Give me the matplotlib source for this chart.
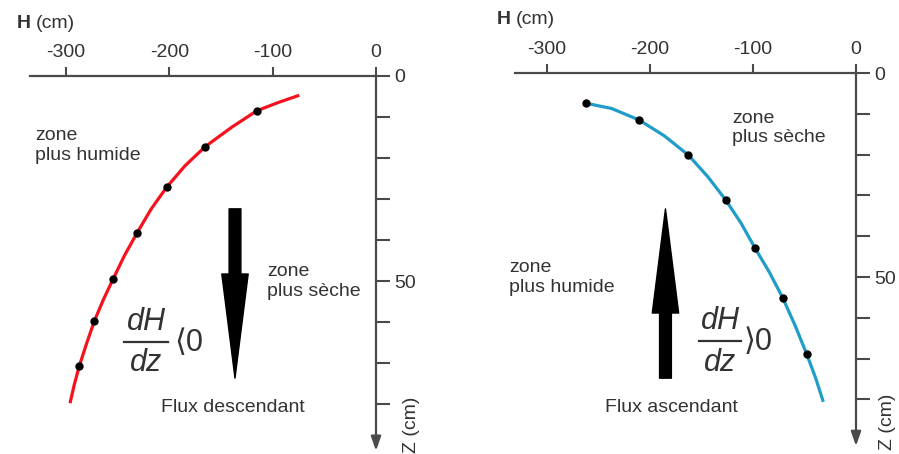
import matplotlib
matplotlib.use("Agg")
import matplotlib.pyplot as plt
from matplotlib.lines import Line2D

plt.rcParams['font.family'] = ['Liberation Sans', 'DejaVu Sans']

# ---------------- data ----------------
x_ticks = [-300, -200, -100, 0]
x_tick_labels = ['-300', '-200', '-100', '0']
z_major_ticks = [0, 50]
z_major_labels = ['0', '50']
z_minor_ticks = [10, 20, 30, 40, 60, 70, 80]

# left panel (descending flux) - curve read along its length, and measurement dots
left_curve_H = [-74.3, -96.1, -115.5, -139.7, -165.2, -184.9, -202.6, -217.8, -231.4,
                -243.3, -254.3, -264.0, -272.7, -280.1, -287.2, -292.1, -296.2]
left_curve_z = [4.7, 6.6, 8.5, 12.5, 17.2, 21.9, 27.1, 32.5, 38.3,
                43.7, 49.4, 54.6, 59.8, 65.2, 70.7, 75.3, 79.8]
left_dots_H = [-115.5, -165.2, -202.6, -231.4, -254.3, -272.7, -287.2]
left_dots_z = [8.5, 17.2, 27.1, 38.3, 49.4, 59.8, 70.7]

# right panel (ascending flux)
right_curve_H = [-262.2, -237.0, -210.5, -185.9, -162.7, -143.8, -126.4, -111.5,
                 -98.0, -84.1, -71.1, -59.2, -47.8, -39.1, -31.7]
right_curve_z = [7.4, 8.7, 11.5, 15.4, 20.1, 25.4, 31.1, 36.8,
                 42.9, 48.8, 55.1, 61.8, 68.9, 74.8, 80.6]
right_dots_H = [-262.2, -210.5, -162.7, -126.4, -98.0, -71.1, -47.8]
right_dots_z = [7.4, 11.5, 20.1, 31.1, 42.9, 55.1, 68.9]

# flux arrows: (H position, z start, z end)
left_arrow = (-136.5, 32.4, 73.7)
right_arrow = (-184.8, 74.8, 33.3)

# ---------------- style ----------------
W, Hpx = 899, 454
AXC = '#4a4a4a'
TXT = '#333333'
RED = '#f5121e'
BLUE = '#1f9cc8'
FS = 14

fig = plt.figure(figsize=(W / 100, Hpx / 100), dpi=100)


def fx(px):
    return px / W


def fy(py):
    return 1 - py / Hpx


def make_panel(x0, sx, y0, sy, xstart):
    xlim = (-345, 14)
    ylim = (92, -8)
    left = x0 + sx * xlim[0]
    right = x0 + sx * xlim[1]
    top = y0 + sy * ylim[1]
    bottom = y0 + sy * ylim[0]
    ax = fig.add_axes([fx(left), fy(bottom), (right - left) / W, (bottom - top) / Hpx])
    ax.set_xlim(xlim)
    ax.set_ylim(ylim)
    ax.patch.set_visible(False)
    for s in ['left', 'bottom']:
        ax.spines[s].set_visible(False)
    ax.spines['top'].set_position(('data', 0))
    ax.spines['top'].set_bounds(xstart, 0)
    ax.spines['right'].set_position(('data', 0))
    ax.spines['right'].set_bounds(0, 88)
    for s in ['top', 'right']:
        ax.spines[s].set_color(AXC)
        ax.spines[s].set_linewidth(1.6)
    ax.xaxis.tick_top()
    ax.set_xticks(x_ticks)
    ax.set_xticklabels(x_tick_labels)
    ax.tick_params(axis='x', direction='out', length=6.5, width=1.5, color=AXC,
                   pad=4, labelsize=FS, labelcolor=TXT)
    ax.yaxis.tick_right()
    ax.set_yticks(z_major_ticks)
    ax.set_yticklabels(z_major_labels)
    ax.set_yticks(z_minor_ticks, minor=True)
    ax.tick_params(axis='y', which='both', direction='out', length=10, width=1.5,
                   color=AXC, pad=3, labelsize=FS, labelcolor=TXT)
    ax.annotate('', xy=(0, 91.4), xytext=(0, 87.5),
                arrowprops=dict(arrowstyle='-|>,head_length=0.85,head_width=0.3',
                                color=AXC, lw=1.6, shrinkA=0, shrinkB=0,
                                mutation_scale=10), annotation_clip=False)
    return ax


def big_arrow(ax, spec):
    h, z_from, z_to = spec
    ax.annotate('', xy=(h, z_to), xytext=(h, z_from),
                arrowprops=dict(arrowstyle='simple,head_length=75,head_width=19,tail_width=8.5',
                                color='black', shrinkA=0, shrinkB=0, mutation_scale=1))


def fraction(cx, y_top, y_line, y_bot, half, sign, sx):
    fig.text(fx(cx), fy(y_top), 'dH', fontsize=22, style='italic', color=TXT,
             ha='center', va='center')
    fig.text(fx(cx), fy(y_bot), 'dz', fontsize=22, style='italic', color=TXT,
             ha='center', va='center')
    fig.add_artist(Line2D([fx(cx - half), fx(cx + half)], [fy(y_line), fy(y_line)],
                          transform=fig.transFigure, color=TXT, lw=1.6))
    fig.text(fx(sx), fy(y_line + 1), sign + '0', fontsize=22, color=TXT,
             ha='left', va='center')


# ---------------- left panel ----------------
axL = make_panel(376, 1.033, 76, 4.1, -335)
axL.plot(left_curve_H, left_curve_z, color=RED, lw=2.3, solid_capstyle='butt',
         solid_joinstyle='round', zorder=3)
axL.plot(left_dots_H, left_dots_z, 'o', color='black', ms=5, zorder=4)
big_arrow(axL, left_arrow)

fig.text(fx(17), fy(23), 'H', fontsize=FS, fontweight='bold', color=TXT, ha='left', va='center')
fig.text(fx(36), fy(23), '(cm)', fontsize=FS, color=TXT, ha='left', va='center')
fig.text(fx(35), fy(135), 'zone', fontsize=FS, color=TXT, ha='left', va='center')
fig.text(fx(35), fy(155), 'plus humide', fontsize=FS, color=TXT, ha='left', va='center')
fig.text(fx(267), fy(272), 'zone', fontsize=FS, color=TXT, ha='left', va='center')
fig.text(fx(267), fy(292), 'plus sèche', fontsize=FS, color=TXT, ha='left', va='center')
fig.text(fx(233), fy(408), 'Flux descendant', fontsize=FS, color=TXT, ha='center', va='center')
fig.text(fx(412), fy(425), 'Z (cm)', fontsize=FS, color=TXT, ha='center', va='center', rotation=90)
fraction(146, 322, 342, 363, 22, '⟨', 174)

# ---------------- right panel ----------------
axR = make_panel(856, 1.031, 73, 4.08, -331)
axR.plot(right_curve_H, right_curve_z, color=BLUE, lw=2.3, solid_capstyle='butt',
         solid_joinstyle='round', zorder=3)
axR.plot(right_dots_H, right_dots_z, 'o', color='black', ms=5, zorder=4)
big_arrow(axR, right_arrow)

fig.text(fx(497), fy(20), 'H', fontsize=FS, fontweight='bold', color=TXT, ha='left', va='center')
fig.text(fx(516), fy(20), '(cm)', fontsize=FS, color=TXT, ha='left', va='center')
fig.text(fx(732), fy(119), 'zone', fontsize=FS, color=TXT, ha='left', va='center')
fig.text(fx(732), fy(138), 'plus sèche', fontsize=FS, color=TXT, ha='left', va='center')
fig.text(fx(509), fy(267), 'zone', fontsize=FS, color=TXT, ha='left', va='center')
fig.text(fx(509), fy(287), 'plus humide', fontsize=FS, color=TXT, ha='left', va='center')
fig.text(fx(671), fy(407), 'Flux ascendant', fontsize=FS, color=TXT, ha='center', va='center')
fig.text(fx(888), fy(422), 'Z (cm)', fontsize=FS, color=TXT, ha='center', va='center', rotation=90)
fraction(720, 321, 341, 363, 21, '⟩', 744)

fig.savefig('out.png', dpi=100)
